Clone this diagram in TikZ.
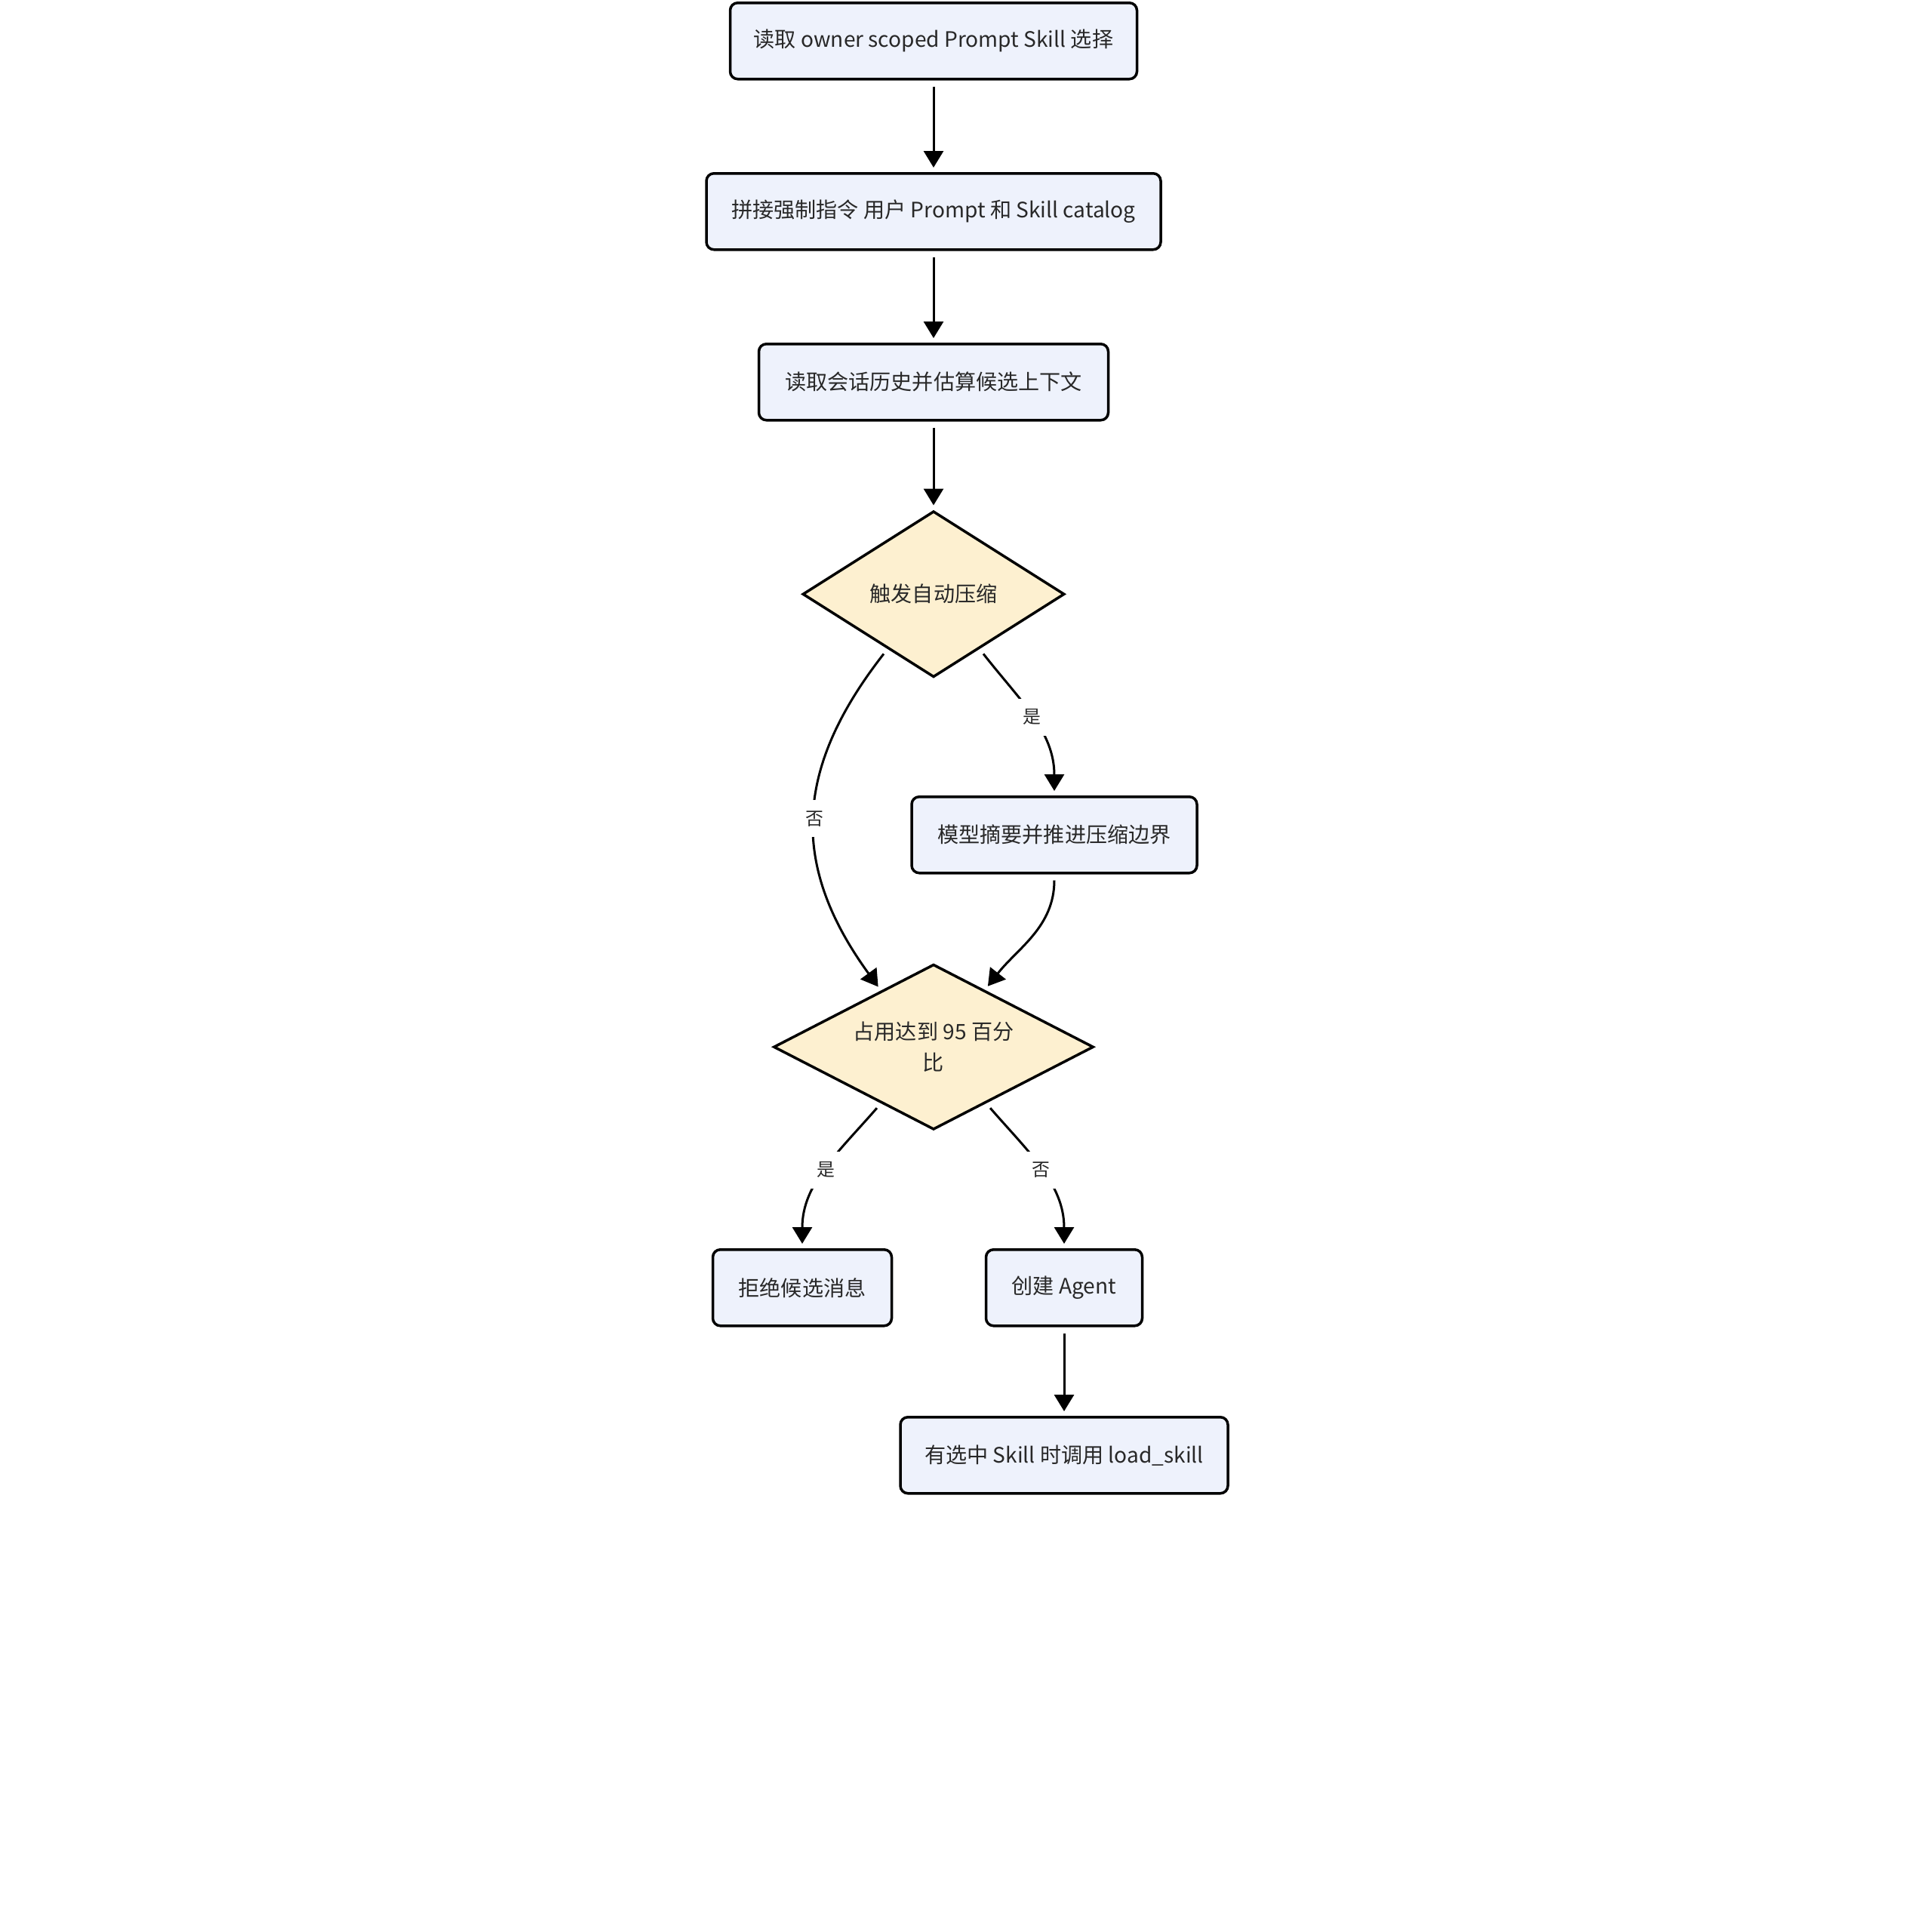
\documentclass[tikz,border=0pt]{standalone}
\usepackage{fontspec}
\newfontfamily\cjk{Noto Sans CJK SC}
\usetikzlibrary{shapes.geometric,arrows.meta}
\definecolor{boxfill}{RGB}{238,242,252}
\definecolor{decfill}{RGB}{253,240,208}
\definecolor{txt}{RGB}{40,40,40}

\begin{document}
\begin{tikzpicture}[node distance=22.6mm, anchor=north,
    box/.style={rectangle, rounded corners=1mm, draw, line width=0.35mm, fill=boxfill,
      minimum height=10.1mm, inner xsep=1.5mm, text=txt, font=\cjk\fontsize{8}{11.7}\selectfont},
    dec/.style={diamond, aspect=1.6, draw, line width=0.35mm, fill=decfill, inner sep=0mm,
      align=center, text=txt, font=\cjk\fontsize{8}{11.7}\selectfont},
    lbl/.style={anchor=center, fill=white, inner sep=1.4mm, text=txt, font=\cjk\fontsize{6.8}{7}\selectfont},
    flow/.style={->, line width=0.3mm, shorten <=0.8mm, shorten >=0.6mm},
    >={Triangle[length=2.2mm,width=2.6mm]}]
  \useasboundingbox (0,0) rectangle (25.6,-25.6);

  \node[box, minimum width=53.9mm] at (12.37,-0.02) (sel) {读取 owner scoped Prompt Skill 选择};
  \node[box, minimum width=60.2mm, below of=sel] (join) {拼接强制指令 用户 Prompt 和 Skill catalog};
  \node[box, minimum width=46.3mm, below of=join] (hist) {读取会话历史并估算候选上下文};
  \node[dec, minimum width=34.7mm, minimum height=22mm, below of=hist, node distance=28.1mm] (auto) {触发自动压缩};
  \node[box, minimum width=37.8mm, below of=auto, node distance=31.9mm, xshift=16mm] (summ) {模型摘要并推进压缩边界};
  \node[dec, minimum width=42.4mm, minimum height=21.9mm, below of=auto, node distance=60mm] (full) {占用达到 95 百分\\比};
  \node[box, minimum width=23.7mm, below of=full, node distance=31.9mm, xshift=-17.4mm] (reject) {拒绝候选消息};
  \node[box, minimum width=20.7mm, below of=full, node distance=31.9mm, xshift=17.3mm] (agent) {创建 Agent};
  \node[box, minimum width=43.4mm, below of=agent, node distance=22.2mm] (load) {有选中 Skill 时调用 load\_skill};

  \draw[flow] (sel) -- (join);
  \draw[flow] (join) -- (hist);
  \draw[flow] (hist) -- (auto);
  \draw[flow] (auto.230) to[out=-128, in=126, looseness=1.15] node[lbl] {否} (full.133);
  \draw[flow] (auto.310) to[out=-52, in=90] node[lbl] {是} (summ.north);
  \draw[flow] (summ.south) to[out=-90, in=52] (full.48);
  \draw[flow] (full.227) to[out=-131, in=90] node[lbl] {是} (reject.north);
  \draw[flow] (full.313) to[out=-49, in=90] node[lbl] {否} (agent.north);
  \draw[flow] (agent) -- (load);
\end{tikzpicture}
\end{document}
